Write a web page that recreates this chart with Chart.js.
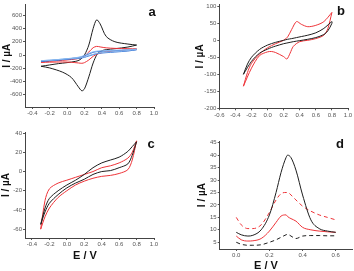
<!DOCTYPE html>
<html>
<head>
<meta charset="utf-8">
<script src="https://cdn.jsdelivr.net/npm/chart.js@4.4.1/dist/chart.umd.min.js"></script>
<style>
body { margin: 0; width: 354px; height: 271px; position: relative; background: #fff; overflow: hidden; font-family: "Liberation Sans", Arial, sans-serif; }
canvas { position: absolute; }
.tag { position: absolute; font-weight: bold; font-size: 13px; color: #111; transform: translate(-50%, -50%); }
.xt { position: absolute; font-weight: bold; font-size: 11px; color: #111; transform: translate(-50%, -50%); white-space: nowrap; }
</style>
</head>
<body>
<canvas id="pa" width="160" height="122" style="left:0;top:0"></canvas>
<canvas id="pb" width="177" height="123" style="left:177px;top:0"></canvas>
<canvas id="pc" width="160" height="144" style="left:0;top:127px"></canvas>
<canvas id="pd" width="177" height="144" style="left:177px;top:127px"></canvas>
<div class="tag" style="left:152px;top:11px">a</div>
<div class="tag" style="left:341px;top:10px">b</div>
<div class="tag" style="left:151px;top:143px">c</div>
<div class="tag" style="left:340px;top:143px">d</div>
<div class="xt" style="left:85px;top:255px">E / V</div>
<div class="xt" style="left:266px;top:265px">E / V</div>
<script>
// Panel a - CV, three electrodes
const aFwdE = [-0.3, -0.2, -0.1, 0, 0.1, 0.15, 0.2, 0.25, 0.3, 0.34, 0.38, 0.45, 0.55, 0.7, 0.8];
const aRevE = [0.8, 0.7, 0.55, 0.45, 0.4, 0.35, 0.3, 0.25, 0.2, 0.17, 0.13, 0.05, -0.05, -0.2, -0.3];
const aBlackFwd = [-170, -150, -130, -115, -95, -70, 0, 150, 400, 530, 470, 280, 200, 165, 150];
const aBlackRev = [150, 120, 95, 80, 65, 20, -120, -330, -510, -540, -480, -340, -260, -195, -170];
const aRedFwd = [-110, -95, -85, -75, -60, -45, -15, 45, 110, 130, 122, 108, 100, 95, 92];
const aRedRev = [92, 75, 60, 45, 35, 15, -20, -75, -115, -125, -120, -110, -105, -108, -110];
const aBlueFwd = [-95, -85, -75, -60, -45, -35, -15, 15, 40, 50, 55, 60, 65, 75, 80];
const aBlueRev = [80, 60, 45, 35, 30, 20, 5, -15, -35, -45, -52, -60, -70, -85, -95];
const aSkyFwd = [-85, -78, -68, -55, -40, -28, -5, 25, 48, 58, 62, 68, 72, 80, 88];
const aSkyRev = [88, 68, 52, 42, 36, 26, 10, -8, -28, -38, -45, -52, -62, -78, -85];
const aXTicks = [-0.4, -0.2, 0, 0.2, 0.4, 0.6, 0.8, 1.0];
const aYTicks = [-600, -400, -200, 0, 200, 400, 600];

// Panel b
const bFwdE = [-0.3, -0.25, -0.2, -0.1, 0, 0.1, 0.2, 0.25, 0.3, 0.36, 0.42, 0.5, 0.6, 0.7, 0.8];
const bRevE = [0.8, 0.75, 0.7, 0.6, 0.5, 0.4, 0.32, 0.28, 0.24, 0.2, 0.1, 0.05, 0, -0.1, -0.2, -0.3];
const bBlackFwd = [-100, -70, -50, -27, -14, -6, 0, 3, 5, 8, 11, 15, 22, 35, 55];
const bBlackRev = [50, 28, 17, 8, 3, -1, -4, -6, -8, -10, -17, -21, -26, -38, -62, -100];
const bRedFwd = [-135, -95, -68, -40, -22, -10, 0, 10, 32, 55, 47, 40, 44, 55, 82];
const bRedRev = [82, 35, 15, 5, 0, -4, -18, -38, -55, -48, -36, -33, -34, -45, -82, -135];
const bXTicks = [-0.6, -0.4, -0.2, 0, 0.2, 0.4, 0.6, 0.8, 1.0];
const bYTicks = [-200, -150, -100, -50, 0, 50, 100];

// Panel c
const cFwdE = [-0.3, -0.25, -0.2, -0.1, 0, 0.1, 0.2, 0.3, 0.4, 0.5, 0.6, 0.7, 0.75, 0.8];
const cRevE = [0.8, 0.75, 0.7, 0.6, 0.5, 0.4, 0.3, 0.2, 0.1, 0, -0.1, -0.2, -0.25, -0.3];
const cRedFwd = [-60, -30, -18, -12, -9, -6, -3, 0, 4, 6, 9, 14, 20, 32];
const cRedRev = [32, 12, 2, -2, -4, -5, -7, -10, -14, -20, -27, -38, -47, -60];
const cBlackFwd = [-55, -38, -28, -20, -14, -9, -3, 4, 9, 12, 15, 21, 26, 31];
const cBlackRev = [31, 17, 8, 4, 1, 0, -3, -8, -12, -17, -24, -33, -42, -55];
const cXTicks = [-0.4, -0.2, 0, 0.2, 0.4, 0.6, 0.8, 1.0];
const cYTicks = [-60, -40, -20, 0, 20, 40];

// Panel d - DPV
const dE = [0, 0.03, 0.07, 0.1, 0.15, 0.2, 0.24, 0.27, 0.3, 0.31, 0.33, 0.36, 0.4, 0.45, 0.5, 0.55, 0.6];
const dBlack = [9, 8, 7.5, 7.8, 10, 16, 25, 33, 39, 40, 39, 34, 24, 14, 10.5, 9.5, 9];
const dRedDash = [15, 12, 10.5, 10.5, 12, 17, 22, 24.5, 25, 25, 24, 22, 19.5, 17.5, 16, 15, 14];
const dRed = [7.5, 6, 5.5, 5.6, 6.5, 9.5, 13, 15.5, 16, 15.3, 14.5, 13.5, 11, 10, 9.5, 9.2, 9];
const dBlackDash = [5, 4.2, 3.8, 3.8, 4, 5, 6, 7, 8, 8.2, 7.5, 6.5, 7.5, 7.7, 7.7, 7.6, 7.6];
const dXTicks = [0, 0.2, 0.4, 0.6];
const dYTicks = [5, 10, 15, 20, 25, 30, 35, 40, 45];

const BLACK = '#1e1e1e';
const RED = '#ee3338';
const BLUE = '#2f6fd3';
const SKY = '#86b6ee';

Chart.defaults.font.family = '"Liberation Sans", Arial, sans-serif';
Chart.defaults.animation = false;

function curve(e, i, color, dash, mono) {
    return {
        data: e.map((v, k) => ({ x: v, y: i[k] })),
        borderColor: color,
        borderWidth: 1,
        borderDash: dash || [],
        pointRadius: 0,
        showLine: true,
        tension: 0.3,
        cubicInterpolationMode: mono ? 'monotone' : 'default',
        fill: false
    };
}

function scale(pos, min, max, ticks, size, fmt, titlePad) {
    return {
        type: 'linear',
        position: pos,
        min: min,
        max: max,
        afterBuildTicks: s => { s.ticks = ticks.map(v => ({ value: v })); },
        afterFit: s => { if (pos === 'left') s.width = size; else s.height = size; },
        grid: { drawOnChartArea: false, drawTicks: true, tickLength: 2, color: '#555' },
        border: { color: '#444', width: 1 },
        ticks: { font: { size: 6 }, color: '#555', padding: 1, maxRotation: 0, autoSkip: false, callback: fmt },
        title: {
            display: pos === 'left',
            text: 'I / µA',
            color: '#111',
            font: { size: 10, weight: 'bold' },
            padding: { top: titlePad || 0, bottom: 0 }
        }
    };
}

const fmtX = v => v.toFixed(1);
const fmtY = v => String(v);

function panel(id, datasets, x, y, pad) {
    return new Chart(document.getElementById(id), {
        type: 'scatter',
        data: { datasets: datasets },
        options: {
            responsive: false,
            layout: { padding: pad },
            plugins: { legend: { display: false }, tooltip: { enabled: false } },
            scales: { x: x, y: y }
        }
    });
}

panel('pa', [
    curve(aFwdE.concat(aRevE), aSkyFwd.concat(aSkyRev), SKY),
    curve(aFwdE.concat(aRevE), aBlueFwd.concat(aBlueRev), BLUE),
    curve(aFwdE.concat(aRevE), aRedFwd.concat(aRedRev), RED),
    curve(aFwdE.concat(aRevE), aBlackFwd.concat(aBlackRev), BLACK)
], scale('bottom', -0.484, 1.0, aXTicks, 15, fmtX),
   scale('left', -784, 760, aYTicks, 25, fmtY, 1.5),
   { top: 1, right: 6, left: 0, bottom: 0 });

panel('pb', [
    curve(bFwdE.concat(bRevE), bBlackFwd.concat(bBlackRev), BLACK),
    curve(bFwdE.concat(bRevE), bRedFwd.concat(bRedRev), RED)
], scale('bottom', -0.6, 1.0, bXTicks, 14.7, fmtX),
   scale('left', -200, 105, bYTicks, 42.3, fmtY, 17.5),
   { top: 3, right: 6, left: 0, bottom: 0 });

panel('pc', [
    curve(cFwdE.concat(cRevE), cBlackFwd.concat(cBlackRev), BLACK),
    curve(cFwdE.concat(cRevE), cRedFwd.concat(cRedRev), RED)
], scale('bottom', -0.48, 1.0, cXTicks, 33, fmtX),
   scale('left', -69.2, 41.2, cYTicks, 25, fmtY, 0.7),
   { top: 5, right: 6, left: 0, bottom: 0 });

panel('pd', [
    curve(dE, dBlack, BLACK, null, true),
    curve(dE, dRedDash, RED, [4, 3], true),
    curve(dE, dRed, RED, null, true),
    curve(dE, dBlackDash, BLACK, [4, 3], true)
], scale('bottom', -0.1, 0.7, dXTicks, 22, fmtX),
   scale('left', 2.3, 45.6, dYTicks, 42.7, fmtY, 19),
   { top: 14.2, right: 1.7, left: 0, bottom: 0 });
</script>
</body>
</html>
